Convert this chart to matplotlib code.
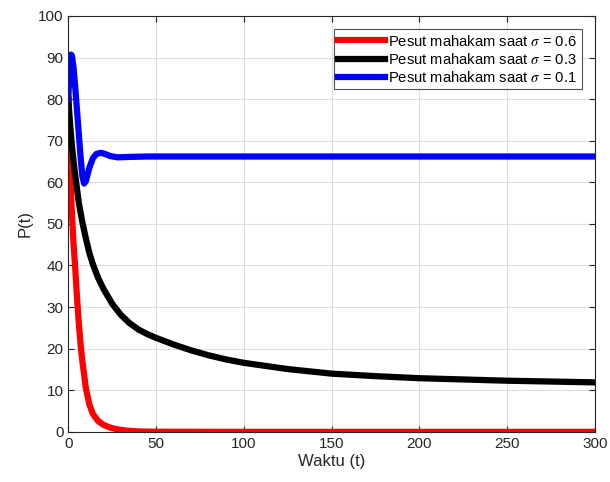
import matplotlib
matplotlib.use("Agg")
import matplotlib.pyplot as plt

# population curves read at sample times
t_red = [0, 1, 2, 3, 4, 5, 6, 7, 8, 10, 12, 14, 17, 20, 24, 28, 33, 40, 50, 100, 150, 200, 250, 300]
p_red = [80, 62, 53, 45, 39, 32, 26, 21, 17, 10.5, 6.6, 4.3, 2.6, 1.7, 1.0, 0.6, 0.3, 0.1, 0.03, 0, 0, 0, 0, 0]

t_black = [0, 1, 2, 3, 4, 6, 8, 10, 12, 14, 17, 20, 25, 30, 35, 40, 45, 50, 60, 70, 80, 90, 100, 110, 125,
           150, 175, 200, 225, 250, 275, 300]
p_black = [80, 74, 69, 65, 61.5, 55, 50.4, 46.5, 43, 40.3, 37, 34.4, 30.8, 28.1, 26.1, 24.6, 23.5, 22.6, 21.0,
           19.6, 18.4, 17.4, 16.6, 16.0, 15.1, 14.0, 13.4, 12.9, 12.6, 12.3, 12.1, 11.9]

t_blue = [0, 0.5, 1, 1.5, 2, 3, 4, 5, 6, 7, 8, 9, 10, 12, 14, 16, 18.5, 21, 24, 28, 35, 45,
          60, 100, 150, 200, 250, 300]
p_blue = [80, 85.5, 89.5, 90.7, 90.5, 87.5, 82.5, 77, 71.5, 66, 61.5, 59.7, 60.3, 63.5, 65.8, 66.8, 67.1,
          66.8, 66.3, 66.0, 66.1, 66.2, 66.2, 66.2, 66.2, 66.2, 66.2, 66.2]

labels = [r"Pesut mahakam saat $\sigma$ = 0.6",
          r"Pesut mahakam saat $\sigma$ = 0.3",
          r"Pesut mahakam saat $\sigma$ = 0.1"]

plt.rcParams["font.family"] = ["Liberation Sans", "DejaVu Sans"]
plt.rcParams["mathtext.fontset"] = "stix"

ax_color = "#262626"
fig = plt.figure(figsize=(6.1, 4.82), dpi=100)
ax = fig.add_axes([0.112, 0.104, 0.863, 0.863])

ax.plot(t_red, p_red, color="#ff0000", lw=4.5, label=labels[0])
ax.plot(t_black, p_black, color="#000000", lw=4.5, label=labels[1])
ax.plot(t_blue, p_blue, color="#0000ff", lw=4.5, label=labels[2])

ax.set_xlim(0, 300)
ax.set_ylim(0, 100)
ax.set_xticks(range(0, 301, 50))
ax.set_yticks(range(0, 101, 10))
ax.grid(True, color="#dedede", lw=0.8)
ax.set_axisbelow(True)
ax.tick_params(direction="in", top=True, right=True, colors=ax_color, labelsize=11, length=4)
for s in ax.spines.values():
    s.set_color(ax_color)
    s.set_linewidth(0.8)

ax.set_xlabel("Waktu (t)", fontsize=12, color=ax_color, labelpad=2)
ax.set_ylabel("P(t)", fontsize=12, color=ax_color, labelpad=4)

leg = ax.legend(loc="upper right", fontsize=10.6, frameon=True, fancybox=False,
                handlelength=3.2, handletextpad=0.2, borderpad=0.3, labelspacing=0.22,
                borderaxespad=0.9)
leg.get_frame().set_edgecolor(ax_color)
leg.get_frame().set_linewidth(0.8)

fig.savefig("out.png", dpi=100)
